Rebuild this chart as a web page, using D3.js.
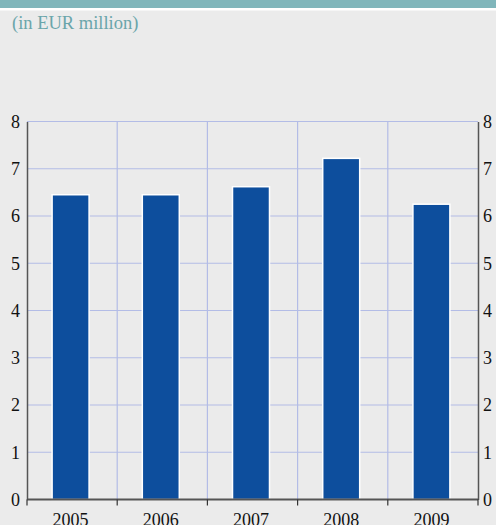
<!DOCTYPE html>
<html>
<head>
<meta charset="utf-8">
<script src="https://cdn.jsdelivr.net/npm/d3@7"></script>
<style>
  body { margin: 0; background: #ebebeb; }
  svg { display: block; }
</style>
</head>
<body>
<svg id="chart"></svg>
<script>
// data
const years = ["2005", "2006", "2007", "2008", "2009"];
const values = [6.45, 6.45, 6.62, 7.22, 6.25];
const yTicks = [0, 1, 2, 3, 4, 5, 6, 7, 8];

const width = 496, height = 525;
const margin = { top: 121.5, right: 18, bottom: 25.5, left: 27 };
const font = "'Liberation Serif', 'Times New Roman', serif";

const svg = d3.select("#chart")
    .attr("width", width)
    .attr("height", height)
    .attr("viewBox", [0, 0, width, height]);

// background + top band
svg.append("rect").attr("width", width).attr("height", height).attr("fill", "#ebebeb");
svg.append("rect").attr("width", width).attr("height", 8).attr("fill", "#80b6bb");
svg.append("rect").attr("y", 8).attr("width", width).attr("height", 2.5).attr("fill", "#ffffff");

svg.append("text")
    .attr("x", 12).attr("y", 29)
    .attr("font-family", font).attr("font-size", 18.5)
    .attr("fill", "#6aa5aa")
    .text("(in EUR million)");

const x = d3.scaleBand().domain(years).range([margin.left, width - margin.right]);
const y = d3.scaleLinear().domain([0, 8]).range([height - margin.bottom, margin.top]);

// grid
const grid = svg.append("g").attr("stroke", "#b3bce6").attr("stroke-width", 1.2);
grid.selectAll("line.h").data(yTicks.slice(1)).join("line")
    .attr("x1", margin.left).attr("x2", width - margin.right)
    .attr("y1", d => y(d)).attr("y2", d => y(d));
grid.selectAll("line.v").data(years.slice(1)).join("line")
    .attr("x1", d => x(d)).attr("x2", d => x(d))
    .attr("y1", margin.top).attr("y2", y(0));

// bars
const bw = x.bandwidth() * 0.41;
svg.append("g").selectAll("rect").data(values).join("rect")
    .attr("x", (d, i) => x(years[i]) + x.bandwidth() / 2 - bw / 2 - 1.5)
    .attr("y", d => y(d))
    .attr("width", bw)
    .attr("height", d => y(0) - y(d))
    .attr("fill", "#0d4e9d")
    .attr("stroke", "#ffffff")
    .attr("stroke-width", 1.5);

// y axes
const yLeft = svg.append("g")
    .attr("transform", `translate(${margin.left},0)`)
    .call(d3.axisLeft(y).tickValues(yTicks).tickSize(0).tickPadding(7));
const yRight = svg.append("g")
    .attr("transform", `translate(${width - margin.right},0)`)
    .call(d3.axisRight(y).tickValues(yTicks).tickSize(0).tickPadding(5));
[yLeft, yRight].forEach(g => {
    g.select(".domain").attr("stroke", "#555").attr("stroke-width", 1.5);
    g.selectAll("text").attr("font-family", font).attr("font-size", 18).attr("fill", "#111");
});

// x axis
const xAxis = svg.append("g").attr("transform", `translate(0,${y(0)})`);
xAxis.append("line")
    .attr("x1", margin.left).attr("x2", width - margin.right)
    .attr("stroke", "#555").attr("stroke-width", 2);
const bounds = years.map(d => x(d)).concat([width - margin.right]);
xAxis.selectAll("line.tick").data(bounds).join("line")
    .attr("class", "tick")
    .attr("x1", d => d).attr("x2", d => d)
    .attr("y1", 0).attr("y2", 6)
    .attr("stroke", "#333").attr("stroke-width", 1.2);
xAxis.selectAll("text").data(years).join("text")
    .attr("x", (d, i) => x(d) + x.bandwidth() / 2 - 1.5)
    .attr("y", 26)
    .attr("text-anchor", "middle")
    .attr("font-family", font).attr("font-size", 18).attr("fill", "#111")
    .text(d => d);
</script>
</body>
</html>
